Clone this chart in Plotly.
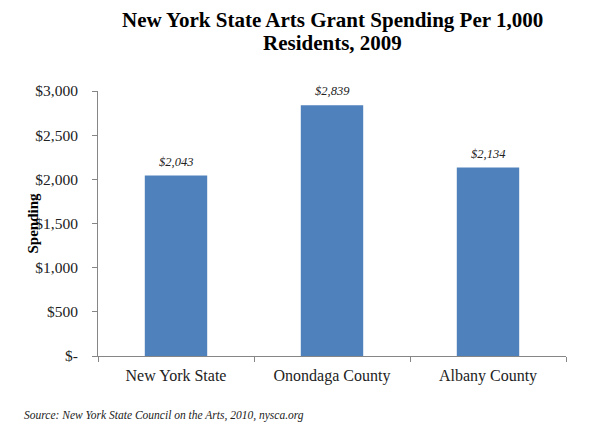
import plotly.graph_objects as go

categories = ["New York State", "Onondaga County", "Albany County"]
spending = [2043, 2839, 2134]
bar_labels = ["$2,043", "$2,839", "$2,134"]
y_tickvals = [0, 500, 1000, 1500, 2000, 2500, 3000]
y_ticktext = ["$-", "$500", "$1,000", "$1,500", "$2,000", "$2,500", "$3,000"]
title_lines = ["New York State Arts Grant Spending Per 1,000", "Residents, 2009"]

FONT = "Liberation Serif"

fig = go.Figure(
    go.Bar(
        x=categories,
        y=spending,
        marker=dict(color="#4F81BD", line=dict(width=0)),
        hoverinfo="x+y",
    )
)

# page body has an 8px default margin; figure sized/positioned to compensate
fig.update_layout(
    width=584,
    height=419,
    paper_bgcolor="white",
    plot_bgcolor="white",
    margin=dict(l=90, r=26, t=83, b=71),
    bargap=0.6,
    showlegend=False,
    font=dict(family=FONT, color="#222222"),
)

fig.update_xaxes(
    showline=True,
    linecolor="#868686",
    linewidth=1,
    ticks="outside",
    tickson="boundaries",
    ticklen=5,
    tickcolor="#868686",
    ticklabelstandoff=5,
    tickfont=dict(family=FONT, size=16, color="#222222"),
    showgrid=False,
)

fig.update_yaxes(
    range=[0, 3000],
    tickvals=y_tickvals,
    ticktext=y_ticktext,
    showline=True,
    linecolor="#868686",
    linewidth=1,
    ticks="outside",
    ticklen=5,
    tickcolor="#868686",
    ticklabelstandoff=11,
    tickfont=dict(family=FONT, size=15.5, color="#222222"),
    showgrid=False,
    zeroline=False,
)

for line, shift in zip(title_lines, [71, 48]):
    fig.add_annotation(
        text="<b>" + line + "</b>",
        xref="paper", yref="paper",
        x=0.5, y=1,
        xanchor="center", yanchor="middle",
        yshift=shift, showarrow=False,
        font=dict(family=FONT, size=21, color="black"),
    )

for cat, val, lab in zip(categories, spending, bar_labels):
    fig.add_annotation(
        x=cat, y=val, text="<i>" + lab + "</i>",
        xref="x", yref="y",
        xanchor="center", yanchor="middle",
        yshift=14, showarrow=False,
        font=dict(family=FONT, size=12.5, color="#222222"),
    )

fig.add_annotation(
    text="<b>Spending</b>",
    xref="paper", yref="paper",
    x=0, y=0.5,
    xanchor="center", yanchor="middle",
    xshift=-66,
    textangle=-90,
    showarrow=False,
    font=dict(family=FONT, size=15, color="black"),
)

fig.add_annotation(
    text="<i>Source: New York State Council on the Arts, 2010, nysca.org</i>",
    xref="paper", yref="paper",
    x=0, y=0,
    xanchor="left", yanchor="middle",
    xshift=-76, yshift=-59,
    showarrow=False,
    font=dict(family=FONT, size=11.5, color="#222222"),
)

fig.write_html("out.html")
